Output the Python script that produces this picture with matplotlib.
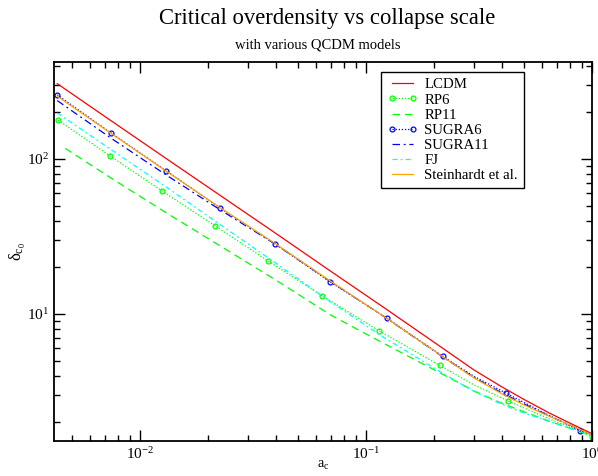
"""
Critical overdensity vs collapse scale for several QCDM models
(log-log, xmgrace-like look).
"""

import matplotlib
matplotlib.use("Agg")
import matplotlib.pyplot as plt
from matplotlib.ticker import LogLocator, NullFormatter

plt.rcParams["font.family"] = ["Liberation Serif", "DejaVu Serif"]
plt.rcParams["mathtext.fontset"] = "custom"
plt.rcParams["mathtext.rm"] = "Liberation Serif"
plt.rcParams["mathtext.it"] = "Liberation Serif:italic"
plt.rcParams["mathtext.default"] = "rm"

# --- Daten ---
a_grid = [0.0043, 0.0075, 0.013, 0.0225, 0.04, 0.07, 0.12, 0.22, 0.3, 0.4, 0.5, 0.65, 0.8, 1.0]

lcdm = [306, 175, 101, 58.5, 33.0, 18.8, 11.0, 5.97, 4.36, 3.38, 2.81, 2.29, 1.975, 1.69]
steinhardt = [254, 145, 83.8, 48.7, 28.2, 16.2, 9.63, 5.27, 3.87, 3.05, 2.59, 2.18, 1.92, 1.665]
sugra11 = [238, 135, 79.1, 47.2, 28.0, 16.1, 9.63, 5.25, 3.90, 3.09, 2.63, 2.19, 1.92, 1.665]
fj = [198, 114, 66.2, 37.9, 21.2, 11.9, 7.05, 4.12, 3.17, 2.61, 2.30, 2.02, 1.83, 1.63]

a_rp11 = [0.00466, 0.0075, 0.013, 0.0225, 0.04, 0.07, 0.12, 0.22, 0.3, 0.4, 0.5, 0.65, 0.8, 1.0]
rp11 = [117, 74.7, 45.1, 27.6, 16.5, 9.81, 6.45, 4.06, 3.19, 2.65, 2.34, 2.03, 1.83, 1.63]

# RP6 / SUGRA6: Punkte mit Symbol plus Zwischenpunkte ohne Symbol
a_rp6 = [0.00434, 0.00737, 0.0125, 0.0215, 0.0368, 0.0639, 0.114, 0.212, 0.3, 0.425, 0.65, 0.8, 1.0]
rp6 = [178, 104.5, 62.2, 37.0, 22.0, 13.1, 7.80, 4.66, 3.49, 2.75, 2.10, 1.86, 1.62]
rp6_marked = [0, 1, 2, 3, 4, 5, 6, 7, 9, 12]

a_sugra6 = [0.0043, 0.00744, 0.013, 0.0226, 0.0396, 0.0694, 0.124, 0.219, 0.3, 0.416, 0.6, 0.885, 1.0]
sugra6 = [259, 147, 84.2, 48.3, 28.3, 16.1, 9.38, 5.32, 3.96, 3.09, 2.34, 1.76, 1.67]
sugra6_marked = [0, 1, 2, 3, 4, 5, 6, 7, 9, 11]

fig = plt.figure(figsize=(5.98, 4.76), dpi=100)
ax = fig.add_axes([0.0903, 0.0735, 0.8997, 0.7962])

lw = 0.9
ax.plot(a_grid, lcdm, color="#ff0000", lw=lw, label="LCDM")
ax.plot(a_rp6, rp6, color="#00ff00", lw=lw, ls=(0, (1, 1.5)),
        marker="o", ms=3.5, mfc="none", mew=0.9, markevery=rp6_marked, label="RP6")
ax.plot(a_rp11, rp11, color="#00ff00", lw=lw, ls=(0, (6, 4)), label="RP11")
ax.plot(a_sugra6, sugra6, color="#0000ff", lw=lw, ls=(0, (1, 1.5)),
        marker="o", ms=3.5, mfc="none", mew=0.9, markevery=sugra6_marked, label="SUGRA6")
ax.plot(a_grid, sugra11, color="#0000ff", lw=lw, ls=(0, (6, 3, 1.5, 3)), label="SUGRA11")
ax.plot(a_grid, fj, color="#00ffff", lw=lw, ls=(0, (4, 2.5, 1.5, 2.5)), label="FJ")
ax.plot(a_grid, steinhardt, color="#ffa500", lw=lw, label="Steinhardt et al.")

ax.set_xscale("log")
ax.set_yscale("log")
ax.set_xlim(0.00416, 1.0)
ax.set_ylim(1.516, 422)

ax.xaxis.set_minor_locator(LogLocator(base=10, subs=range(2, 10)))
ax.yaxis.set_minor_locator(LogLocator(base=10, subs=range(2, 10)))
ax.xaxis.set_minor_formatter(NullFormatter())
ax.yaxis.set_minor_formatter(NullFormatter())
ax.tick_params(which="both", direction="in", top=True, right=True,
               labelsize=11, width=1.0, color="black")
ax.tick_params(which="major", length=8)
ax.tick_params(which="minor", length=4.5)
for s in ax.spines.values():
    s.set_linewidth(1.3)

ax.set_xlabel(r"a$_\mathrm{c}$", fontsize=10, labelpad=-2)
ax.set_ylabel(r"δ$_{\mathrm{c}_0}$", fontsize=12, labelpad=-1)

leg = ax.legend(loc="upper right", bbox_to_anchor=(0.8736, 0.9736), borderaxespad=0,
                fontsize=10.7, numpoints=2, frameon=True, fancybox=False,
                framealpha=1.0, edgecolor="black", handlelength=2.0,
                handletextpad=0.5, labelspacing=0.12, borderpad=0.4)
leg.get_frame().set_linewidth(1.0)

fig.text(0.547, 0.962, "Critical overdensity vs collapse scale",
         ha="center", va="center", fontsize=16.3)
fig.text(0.532, 0.905, "with various QCDM models",
         ha="center", va="center", fontsize=10.5)

fig.savefig("out.png", dpi=100)
